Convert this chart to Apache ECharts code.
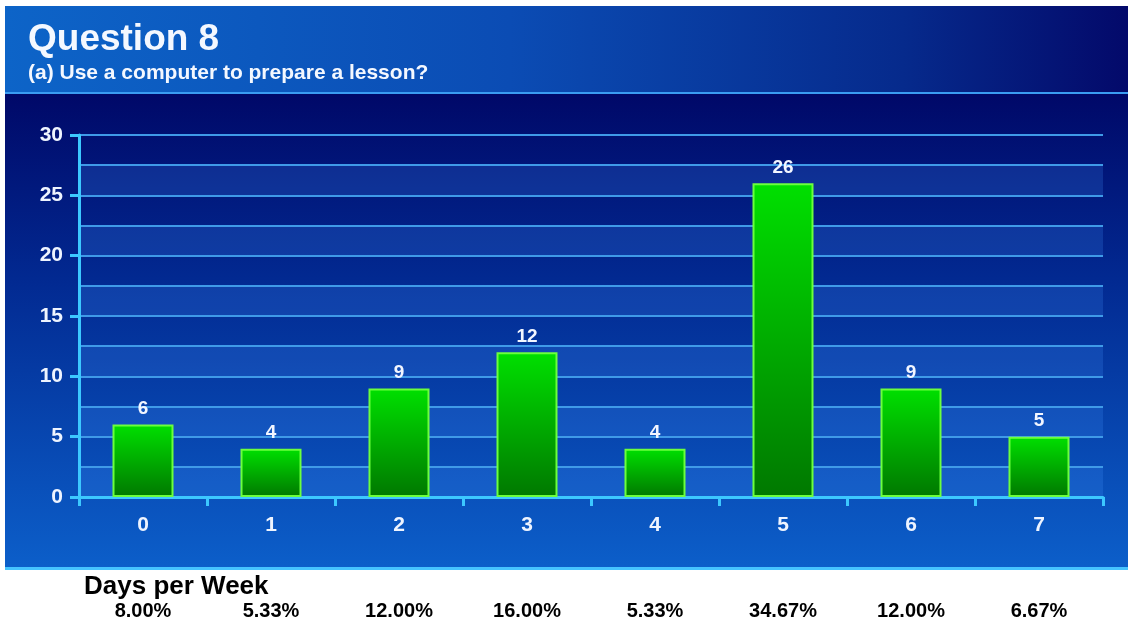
<!DOCTYPE html>
<html>
<head>
<meta charset="utf-8">
<script src="https://cdn.jsdelivr.net/npm/echarts@6/dist/echarts.min.js"></script>
<style>
  html, body { margin: 0; padding: 0; background: #fff; }
  #chart { width: 1130px; height: 624px; }
</style>
</head>
<body>
<div id="chart"></div>
<script>
const days = ["0", "1", "2", "3", "4", "5", "6", "7"];
const counts = [6, 4, 9, 12, 4, 26, 9, 5];
const percents = ["8.00%", "5.33%", "12.00%", "16.00%", "5.33%", "34.67%", "12.00%", "6.67%"];

const chart = echarts.init(document.getElementById("chart"));
const font = "Liberation Sans, Arial, sans-serif";
const cyan = "#3cc8ff";

const option = {
  backgroundColor: "#ffffff",
  animation: false,
  title: [
    {
      text: "Question 8",
      subtext: "(a) Use a computer to prepare a lesson?",
      left: 23,
      top: 16,
      itemGap: 5,
      textStyle: { color: "#f4f8ff", fontSize: 37, fontWeight: "bold", fontFamily: font },
      subtextStyle: { color: "#f4f8ff", fontSize: 21, fontWeight: "bold", fontFamily: font }
    },
    {
      text: "Days per Week",
      left: 79,
      top: 569,
      textStyle: { color: "#000", fontSize: 26, fontWeight: "bold", fontFamily: font }
    }
  ],
  graphic: [
    {
      type: "rect", z: -10, silent: true,
      shape: { x: 5, y: 6, width: 1123, height: 87 },
      style: {
        fill: new echarts.graphic.LinearGradient(0, 0, 1, 0, [
          { offset: 0, color: "#0d64c8" },
          { offset: 0.45, color: "#0b4cb4" },
          { offset: 0.8, color: "#062a8c" },
          { offset: 1, color: "#03096a" }
        ])
      }
    },
    {
      type: "rect", z: -10, silent: true,
      shape: { x: 5, y: 93, width: 1123, height: 476 },
      style: {
        fill: new echarts.graphic.LinearGradient(0, 0, 0, 1, [
          { offset: 0, color: "#000868" },
          { offset: 0.4, color: "#022a92" },
          { offset: 1, color: "#0c5fca" }
        ])
      }
    },
    {
      type: "rect", z: -9, silent: true,
      shape: { x: 5, y: 92, width: 1123, height: 2 },
      style: { fill: "#3a9cf2" }
    },
    {
      type: "rect", z: -9, silent: true,
      shape: { x: 5, y: 567, width: 1123, height: 3 },
      style: { fill: "#46c4ff" }
    }
  ],
  grid: { left: 79, right: 27, top: 135, bottom: 127 },
  xAxis: [
    {
      type: "category",
      data: days,
      axisLine: { lineStyle: { color: cyan, width: 3 } },
      axisTick: { show: true, alignWithLabel: false, length: 9, lineStyle: { color: cyan, width: 3 } },
      axisLabel: { color: "#eef4ff", fontSize: 21, fontWeight: "bold", fontFamily: font, margin: 18 }
    },
    {
      type: "category",
      data: percents,
      position: "bottom",
      offset: 96,
      axisLine: { show: false },
      axisTick: { show: false },
      axisLabel: { color: "#000", fontSize: 20, fontWeight: "bold", fontFamily: font, margin: 8 }
    }
  ],
  yAxis: [
    {
      type: "value",
      min: 0, max: 30, interval: 2.5,
      axisLine: { show: false },
      axisTick: { show: false },
      axisLabel: { show: false },
      splitLine: { show: true, lineStyle: { color: "#3f9ae8", width: 2 } },
      splitArea: {
        show: true,
        areaStyle: { color: ["rgba(70,150,255,0.2)", "rgba(0,0,0,0)"] }
      }
    },
    {
      type: "value",
      position: "left",
      min: 0, max: 30, interval: 5,
      axisLine: { show: true, lineStyle: { color: cyan, width: 3 } },
      axisTick: { show: true, length: 9, lineStyle: { color: cyan, width: 3 } },
      axisLabel: { color: "#eef4ff", fontSize: 21, fontWeight: "bold", fontFamily: font, margin: 16 },
      splitLine: { show: false }
    }
  ],
  series: [
    {
      type: "bar",
      data: counts,
      xAxisIndex: 0,
      yAxisIndex: 1,
      barWidth: 61,
      itemStyle: {
        color: new echarts.graphic.LinearGradient(0, 0, 0, 1, [
          { offset: 0, color: "#00e000" },
          { offset: 1, color: "#007800" }
        ]),
        borderColor: "#6cff3c",
        borderWidth: 2
      },
      label: {
        show: true,
        position: "top",
        distance: 6,
        color: "#f2f6ff",
        fontSize: 19,
        fontWeight: "bold",
        fontFamily: font
      }
    }
  ]
};

chart.setOption(option);
window.onresize = function () {
  chart.resize();
};
</script>
</body>
</html>
